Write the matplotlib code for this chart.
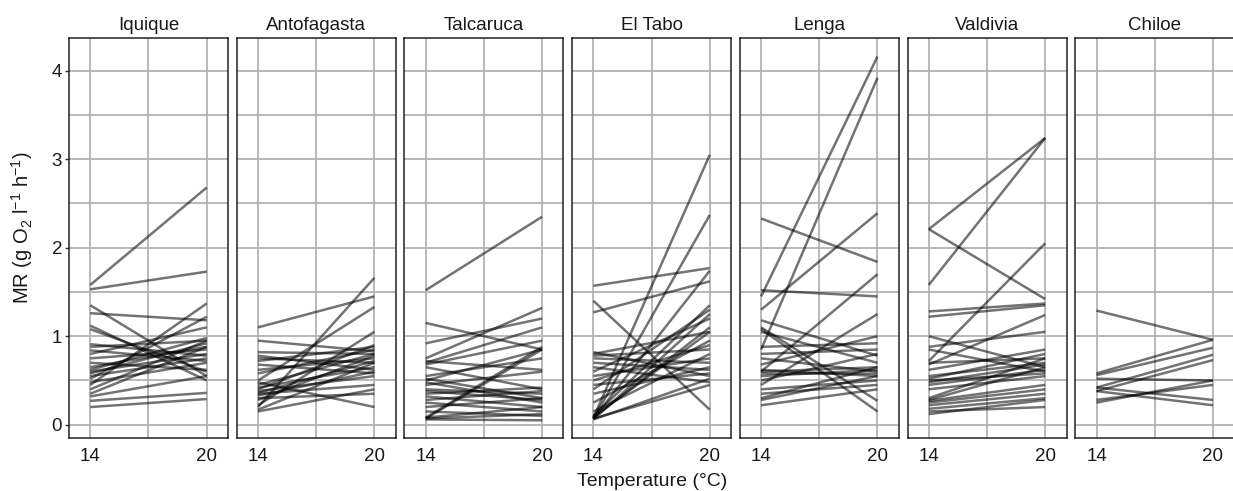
import matplotlib
matplotlib.use("Agg")
import matplotlib.pyplot as plt
from matplotlib.ticker import FixedLocator

plt.rcParams['font.family'] = ['Liberation Sans', 'DejaVu Sans']
plt.rcParams['mathtext.fontset'] = 'custom'
plt.rcParams['mathtext.rm'] = 'Liberation Sans'
plt.rcParams['mathtext.it'] = 'Liberation Sans:italic'

sites = ["Iquique", "Antofagasta", "Talcaruca", "El Tabo", "Lenga", "Valdivia", "Chiloe"]
temps = [14, 20]

iquique_14 = [1.58, 1.53, 1.35, 1.26, 1.12, 1.08, 0.91, 0.88, 0.84, 0.80, 0.75, 0.70, 0.65, 0.62, 0.60, 0.58, 0.55, 0.52, 0.48, 0.45, 0.40, 0.35, 0.32, 0.27, 0.20]
iquique_20 = [2.68, 1.73, 0.55, 1.18, 0.50, 0.60, 0.78, 0.95, 0.72, 1.10, 0.85, 0.62, 0.88, 0.98, 0.80, 0.92, 0.75, 1.22, 0.70, 1.37, 0.95, 0.88, 0.55, 0.36, 0.29]

antofagasta_14 = [1.10, 0.95, 0.82, 0.78, 0.75, 0.72, 0.68, 0.62, 0.58, 0.50, 0.48, 0.45, 0.42, 0.40, 0.38, 0.36, 0.35, 0.33, 0.30, 0.28, 0.22, 0.20, 0.17, 0.15]
antofagasta_20 = [1.45, 0.83, 0.80, 0.62, 0.70, 0.88, 0.58, 0.75, 0.85, 1.33, 0.20, 0.80, 0.65, 0.90, 0.55, 0.72, 0.45, 0.60, 0.35, 0.78, 1.05, 1.66, 0.70, 0.40]

talcaruca_14 = [1.52, 1.15, 0.92, 0.75, 0.72, 0.70, 0.68, 0.65, 0.55, 0.52, 0.50, 0.48, 0.45, 0.40, 0.38, 0.35, 0.32, 0.28, 0.25, 0.20, 0.15, 0.08, 0.07, 0.07, 0.06, 0.08]
talcaruca_20 = [2.35, 0.85, 1.20, 1.32, 0.62, 1.10, 0.95, 0.40, 0.75, 0.30, 0.85, 0.25, 0.60, 0.35, 0.28, 0.42, 0.20, 0.38, 0.15, 0.30, 0.10, 0.88, 0.85, 0.12, 0.05, 0.20]

eltabo_14 = [1.57, 1.40, 1.27, 0.82, 0.80, 0.78, 0.75, 0.70, 0.65, 0.60, 0.55, 0.50, 0.45, 0.40, 0.35, 0.25, 0.15, 0.10, 0.08, 0.07, 0.07, 0.08, 0.06, 0.09, 0.07, 0.06]
eltabo_20 = [1.77, 0.17, 1.62, 0.55, 1.05, 0.85, 0.70, 0.62, 0.48, 1.20, 0.75, 0.90, 0.58, 1.30, 0.65, 0.95, 0.80, 1.35, 3.05, 2.37, 1.74, 1.10, 0.52, 1.05, 0.45, 1.25]

lenga_14 = [2.33, 1.52, 1.45, 1.30, 1.18, 1.10, 1.08, 1.05, 0.88, 0.85, 0.80, 0.75, 0.68, 0.62, 0.60, 0.60, 0.58, 0.55, 0.50, 0.45, 0.40, 0.35, 0.30, 0.28, 0.22]
lenga_20 = [1.84, 1.45, 4.16, 2.39, 0.78, 0.27, 0.15, 0.70, 0.92, 3.92, 0.85, 0.60, 1.00, 0.55, 1.70, 0.65, 0.58, 0.62, 0.80, 1.25, 0.50, 0.45, 0.65, 0.55, 0.40]

valdivia_14 = [2.21, 2.21, 1.58, 1.28, 1.22, 1.00, 0.88, 0.85, 0.72, 0.70, 0.68, 0.62, 0.55, 0.52, 0.50, 0.48, 0.45, 0.40, 0.30, 0.28, 0.27, 0.25, 0.22, 0.18, 0.15, 0.12]
valdivia_20 = [3.24, 1.42, 3.24, 1.37, 1.35, 0.65, 1.05, 0.60, 2.05, 0.75, 1.24, 0.85, 0.70, 0.80, 0.58, 0.68, 0.62, 0.55, 0.75, 0.65, 0.45, 0.40, 0.35, 0.30, 0.20, 0.28]

chiloe_14 = [1.29, 0.58, 0.56, 0.52, 0.42, 0.38, 0.42, 0.38, 0.25, 0.28]
chiloe_20 = [0.96, 0.96, 0.87, 0.50, 0.79, 0.73, 0.28, 0.22, 0.50, 0.45]

data = {
    "Iquique": (iquique_14, iquique_20),
    "Antofagasta": (antofagasta_14, antofagasta_20),
    "Talcaruca": (talcaruca_14, talcaruca_20),
    "El Tabo": (eltabo_14, eltabo_20),
    "Lenga": (lenga_14, lenga_20),
    "Valdivia": (valdivia_14, valdivia_20),
    "Chiloe": (chiloe_14, chiloe_20),
}

W, H = 1233, 491
fig = plt.figure(figsize=(W / 100, H / 100), dpi=100)

left0 = 69
pw = 159
step = 167.7
top = 38
bottom = 438

grid_c = "#b3b3b3"
for i, site in enumerate(sites):
    x0 = left0 + i * step
    ax = fig.add_axes([x0 / W, (H - bottom) / H, pw / W, (bottom - top) / H])
    a14, a20 = data[site]
    for v14, v20 in zip(a14, a20):
        ax.plot(temps, [v14, v20], color="black", alpha=0.55, lw=1.8,
                solid_capstyle="butt", zorder=3)
    ax.set_xlim(12.9, 21.1)
    ax.set_ylim(-0.15, 4.37)
    ax.xaxis.set_major_locator(FixedLocator([14, 20]))
    ax.xaxis.set_minor_locator(FixedLocator([17]))
    ax.yaxis.set_major_locator(FixedLocator([0, 1, 2, 3, 4]))
    ax.yaxis.set_minor_locator(FixedLocator([0.5, 1.5, 2.5, 3.5]))
    ax.grid(True, which="both", color=grid_c, lw=1.3, zorder=1)
    ax.set_axisbelow(True)
    ax.tick_params(which="minor", length=0)
    ax.tick_params(axis="y", which="major", length=3, width=1, color="#333333",
                   labelsize=13.5, pad=2, labelcolor="#1a1a1a")
    ax.tick_params(axis="x", which="major", length=0, labelsize=13.5, pad=7,
                   labelcolor="#1a1a1a")
    for s in ax.spines.values():
        s.set_linewidth(1.1)
        s.set_color("#222222")
    if i > 0:
        ax.tick_params(axis="y", which="both", left=False, labelleft=False)
    ax.set_title(site, fontsize=13.5, pad=6, color="#1a1a1a")

fig.text(22 / W, 1 - 228 / H, r"MR (g O$_2$ l$^{-1}$ h$^{-1}$)", rotation=90,
         ha="center", va="center", fontsize=14.5, color="#1a1a1a")
fig.text(652 / W, 1 - 481 / H, "Temperature (°C)", ha="center", va="center",
         fontsize=14, color="#1a1a1a")

fig.savefig("out.png", dpi=100)
